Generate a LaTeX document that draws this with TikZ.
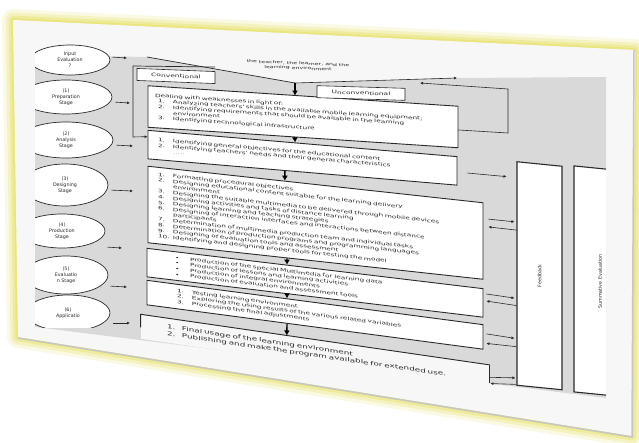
\documentclass[tikz,border=0pt]{standalone}
\usepackage{fontspec}
\setmainfont{DejaVu Sans}
\newfontfamily\widefont[FakeStretch=1.6]{DejaVu Sans}
\usetikzlibrary{shapes.geometric,arrows.meta,calc}
\definecolor{glow}{HTML}{E8E272}
\definecolor{panel}{HTML}{D9D9D9}
\definecolor{sheet}{HTML}{F7F7F7}
\definecolor{ink}{HTML}{2A2A2A}
\tikzset{
  stagebox/.style={draw=ink, line width=0.9pt, fill=white, align=left, inner sep=2pt,
    text=ink, font=\widefont\fontsize{4.6}{5.6}\selectfont},
  phase/.style={ellipse, draw=ink, line width=0.7pt, fill=white, align=center,
    inner sep=0pt, text=ink, font=\fontsize{4.8}{6}\selectfont},
  tag/.style={draw=ink, line width=0.6pt, fill=white, inner sep=1pt, text=ink,
    font=\widefont\fontsize{4.7}{6}\selectfont},
  rail/.style={draw=ink, line width=1.1pt, fill=white},
  flow/.style={-{Latex[length=5pt,width=6pt]}, line width=1.4pt, draw=black},
  link/.style={-{Latex[length=3pt,width=3pt]}, line width=0.6pt, draw=ink}
}
\newcommand{\li}[3][8pt]{\hspace*{#1}\makebox[15pt][l]{#2}\mbox{#3}}
\begin{document}
\begin{tikzpicture}[x=1pt,y=-1pt]
\useasboundingbox (0,0) rectangle (639,442);
% sheet with glow
\coordinate (pTL) at (13,20);
\coordinate (pTR) at (635,50);
\coordinate (pBR) at (632,436);
\coordinate (pBL) at (18,337);
\foreach \w/\o in {22/0.2,15/0.3,9/0.45,4/0.7}
  \draw[glow, line width=\w pt, opacity=\o, line join=round]
    (pTL) -- (pTR) -- (pBR) -- (pBL) -- cycle;
\fill[sheet] (pTL) -- (pTR) -- (pBR) -- (pBL) -- cycle;
\draw[gray!45, line width=1.5pt] ([yshift=-1pt]pBL) -- ([yshift=-1pt]pBR) -- ([xshift=-1pt]pTR);
% gray panel
\coordinate (fl) at (147,57);
\coordinate (fun) at (295,83);
\coordinate (fr) at (457,78);
\fill[panel] (35,55) -- (fl) -- (fun) -- (fr) -- (606,77) -- (606,398) -- (35,327) -- cycle;
% stages
\begin{scope}
  \clip (35,30) rectangle (140,327);
  \node[phase, minimum width=80, minimum height=30] (e0) at (70,60) {Input\\Evaluation\\?};
  \node[phase, minimum width=92, minimum height=34] (e1) at (66,97) {(1)\\Preparation\\Stage};
  \node[phase, minimum width=94, minimum height=36] (e2) at (66,140) {(2)\\Analysis\\Stage};
  \node[phase, minimum width=86, minimum height=42] (e3) at (65,185) {(3)\\Designing\\Stage};
  \node[phase, minimum width=86, minimum height=34] (e4) at (62,231) {(4)\\Production\\Stage};
  \node[phase, minimum width=84, minimum height=38] (e5) at (66,275) {(5)\\Evaluatio\\n Stage};
  \node[phase, minimum width=84, minimum height=36] (e6) at (68,313) {(6)\\Applicatio};
\end{scope}
\coordinate (t0) at (127,58);
\coordinate (t1) at (130,103);
\coordinate (t2) at (133,146);
\coordinate (t3) at (133,191);
\coordinate (t4) at (122,248);
\coordinate (t5) at (127,287);
\coordinate (t6) at (130,323);
\draw[link, shorten <=2pt] ([yshift=3pt]e0.east) -- (t0);
\draw[link, shorten <=3pt] ([yshift=-5pt]e1.east) -- (t1);
\draw[link, shorten <=3pt] ([yshift=-5pt]e2.east) -- (t2);
\draw[link, shorten <=3pt] ([yshift=-5pt]e3.east) -- (t3);
\draw[link, shorten <=2pt] ([yshift=-16pt]e4.east) -- (t4);
\draw[link, shorten <=2pt] ([yshift=-11pt]e5.east) -- (t5);
\draw[link, shorten <=3pt] ([yshift=-10pt]e6.east) -- (t6);
% funnel and preparation frame
\node[align=center, text=ink, font=\widefont\fontsize{3.9}{4.8}\selectfont, yslant=-0.04]
  (actors) at (298,66) {the teacher, the learner, and the\\learning environment};
\draw[ink, line width=0.7pt] (fl) -- (fun);
\draw[link] (fun) -- (fr);
\coordinate (cf0) at (215,67);
\coordinate (cf1) at (133,66);
\coordinate (cf2) at (133,137);
\coordinate (uf0) at (508,133);
\coordinate (uf1) at (508,89);
\coordinate (uf2) at (420,83);
% stage boxes
\node[stagebox, yslant=-0.066, minimum width=310, minimum height=41.5, text width=306] (b1) at (303,116.75)
 {\hspace*{5pt}Dealing with weaknesses in light of:\\
  \li{1.}{Analyzing teachers' skills in the available mobile learning equipment;}\\
  \li{2.}{Identifying requirements that should be available in the learning}\\
  \li{}{environment}\\
  \li{3.}{Identifying technological infrastructure}};
\node[stagebox, yslant=-0.085, minimum width=309, minimum height=28.5, text width=305] (b2) at (302.5,157.75)
 {\li{1.}{Identifying general objectives for the educational content}\\
  \li{2.}{Identifying teachers' needs and their general characteristics}\\
  \li{}{\textcolor{gray}{.....}}};
\node[stagebox, yslant=-0.109, minimum width=335, minimum height=76.5, text width=331] (b3) at (315.5,222.75)
 {\li{1.}{Formatting procedural objectives}\\
  \li{2.}{Designing educational content suitable for the learning delivery}\\
  \li{}{environment}\\
  \li{3.}{Designing the suitable multimedia to be delivered through mobile devices}\\
  \li{4.}{Designing activities and tasks of distance learning}\\
  \li{5.}{Designing learning and teaching strategies}\\
  \li{6.}{Designing of interaction interfaces and interactions between distance}\\
  \li{}{participants}\\
  \li{7.}{Determination of multimedia production team and individual tasks}\\
  \li{8.}{Determination of production programs and programming languages}\\
  \li{9.}{Designing of evaluation tools and assessment}\\
  \li{10.}{Identifying and designing proper tools for testing the model}};
\node[stagebox, yslant=-0.12, minimum width=336, minimum height=28.5, text width=332] (b4) at (315,282.75)
 {\li[26pt]{\textbullet}{Production of the special Multimedia for learning data}\\
  \li[26pt]{\textbullet}{Production of lessons and learning activities}\\
  \li[26pt]{\textbullet}{Production of integral environments}\\
  \li[26pt]{\textbullet}{Production of evaluation and assessment tools}};
\node[stagebox, yslant=-0.132, minimum width=336, minimum height=24.5, text width=332] (b5) at (315,314.75)
 {\li[28pt]{1.}{Testing learning environment}\\
  \li[28pt]{2.}{Exploring the using results of the various related variables}\\
  \li[28pt]{3.}{Processing the final adjustments}};
\node[stagebox, draw=none, fill=sheet, yslant=-0.145, minimum width=344, minimum height=24, text width=340,
  inner sep=4pt, font=\widefont\fontsize{5.5}{7}\selectfont] (b6) at (315,352)
 {\li[22pt]{1.}{Final usage of the learning environment}\\
  \li[22pt]{2.}{Publishing and make the program available for extended use.}};
\draw[ink, line width=0.9pt] ([yshift=-13pt]b6.north west) -- (b6.north west)
  -- (b6.north east) -- ([yshift=-18pt]b6.north east);
% frame lines of preparation stage
\draw[ink, line width=0.7pt] (cf0) -- (cf1) -- (cf2);
\draw[link] (cf2) -- ($(b2.north west)!0.23!(b2.south west)$);
\draw[link] ($(b1.north east)!0.57!(b1.south east)$) -- (uf0) -- (uf1) -- (uf2);
\node[tag, yslant=-0.04, minimum width=78, minimum height=12] (conv) at (176,76) {Conventional};
\node[tag, yslant=-0.03, minimum width=88, minimum height=12] (unconv) at (361,93) {Unconventional};
% main flow
\draw[flow] (fun) -- (fun |- b1.north);
\draw[flow] ($(b1.south west)!0.474!(b1.south east)$) -- ($(b2.north west)!0.476!(b2.north east)$);
\draw[flow] ($(b2.south west)!0.443!(b2.south east)$) -- ($(b3.north west)!0.409!(b3.north east)$);
\draw[flow] ($(b3.south west)!0.415!(b3.south east)$) -- ($(b4.north west)!0.417!(b4.north east)$);
\draw[flow] ($(b4.south west)!0.417!(b4.south east)$) -- ($(b5.north west)!0.417!(b5.north east)$);
\draw[flow] ($(b5.south west)!0.417!(b5.south east)$) -- ($(b6.north west)!0.419!(b6.north east)$);
% feedback and evaluation rails
\node[rail, yslant=-0.1, minimum width=45, minimum height=223.5,
  label={[rotate=90, text=ink, font=\fontsize{4.8}{5}\selectfont]center:Feedback}] (fb) at (539.5,275.75) {};
\begin{scope}
  \clip (560,150) rectangle (606,410);
  \node[rail, yslant=-0.1, minimum width=52, minimum height=226,
    label={[rotate=90, text=ink, font=\fontsize{4.8}{5}\selectfont]center:Summative Evaluation}] (se) at (600,281.5) {};
\end{scope}
\draw[link, shorten <=10pt, shorten >=10pt] ($(b2.north east)!0.54!(b2.south east)$) -- ($(fb.north west)!0.073!(fb.south west)$);
\draw[link, shorten <=5pt, shorten >=2pt] ($(b3.north east)!0.21!(b3.south east)$) -- ($(fb.north west)!0.271!(fb.south west)$);
\draw[link, shorten >=5pt] ($(fb.north west)!0.307!(fb.south west)$) -- ($(b3.north east)!0.31!(b3.south east)$);
\draw[link, shorten <=3pt, shorten >=2pt] ($(b4.north east)!0.18!(b4.south east)$) -- ($(fb.north west)!0.611!(fb.south west)$);
\draw[link, shorten >=3pt] ($(fb.north west)!0.643!(fb.south west)$) -- ($(b4.north east)!0.42!(b4.south east)$);
\draw[link, shorten <=3pt, shorten >=2pt] ($(b5.north east)!0.36!(b5.south east)$) -- ($(fb.north west)!0.79!(fb.south west)$);
\draw[link, shorten >=3pt] ($(fb.north west)!0.826!(fb.south west)$) -- ($(b5.north east)!0.74!(b5.south east)$);
\draw[link, shorten >=1pt] ($(b6.north east)!0.5!(b6.south east)$) -- ($(fb.north west)!0.965!(fb.south west)$);
\draw[link, shorten >=1pt] ($(fb.north west)!0.994!(fb.south west)$) -- ($(b6.north east)!0.75!(b6.south east)$);
\end{tikzpicture}
\end{document}
